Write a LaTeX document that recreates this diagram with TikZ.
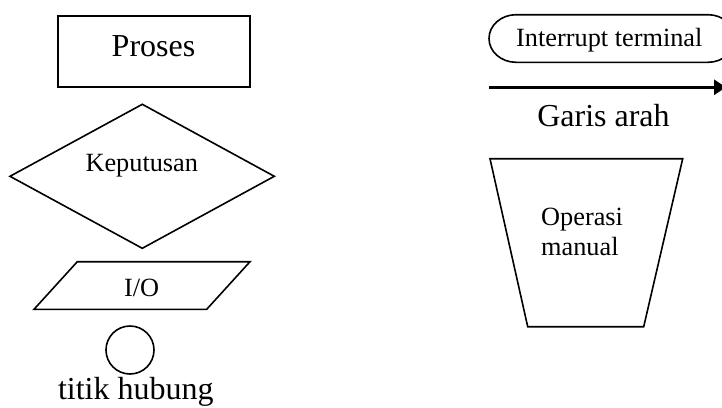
\documentclass[tikz,border=0pt]{standalone}
\usepackage{fontspec}
\setmainfont{Liberation Serif}
\usetikzlibrary{arrows.meta}
\begin{document}
\begin{tikzpicture}[x=1pt,y=-1pt,
  shp/.style={draw=black,line width=1.6pt},
  big/.style={font=\fontsize{32}{36}\selectfont,anchor=base,inner sep=0pt},
  small/.style={font=\fontsize{26.3}{30}\selectfont,anchor=base,inner sep=0pt}]
\useasboundingbox (0,0) rectangle (722,407);
\clip (0,0) rectangle (722,407);
% Proses
\draw[shp,line width=2pt] (58.3,15.6) rectangle (250,87);
\node[big] (proses) at (153.5,56) {Proses};
% Keputusan
\draw[shp] (10,176.3) -- (142.3,104.3) -- (274.3,176.3) -- (142.3,248.3) -- cycle;
\node[small] (keputusan) at (141.8,171.7) {Keputusan};
% I/O
\draw[shp] (77.3,261.7) -- (250,261.7) -- (206.7,309.3) -- (34,309.3) -- cycle;
\node[small] (io) at (141.7,296.7) {I/O};
% titik hubung
\draw[shp] (130,350) circle (24);
\node[big] (titik) at (135.8,399) {titik hubung};
% Interrupt terminal
\draw[shp] (516,14.7) -- (708,14.7)
  arc[start angle=90,end angle=-90,x radius=27pt,y radius=23.8pt] -- (516,62.3)
  arc[start angle=270,end angle=90,x radius=27pt,y radius=23.8pt] -- cycle;
\node[small] (term) at (609.3,46.3) {Interrupt terminal};
% Garis arah
\coordinate (a1) at (489.3,87.3);
\coordinate (a2) at (726,87.3);
\draw[line width=2.8pt,-{Triangle[length=12pt,width=15pt]}] (a1) -- (a2);
\node[big] (garis) at (603.5,126) {Garis arah};
% Operasi manual
\draw[shp] (490,158.7) -- (682.7,158.7) -- (643.7,326.7) -- (527.7,326.7) -- cycle;
\node[small,anchor=base west] (op1) at (541,225) {Operasi};
\node[small,anchor=base west] (op2) at (541,255) {manual};
\end{tikzpicture}
\end{document}
